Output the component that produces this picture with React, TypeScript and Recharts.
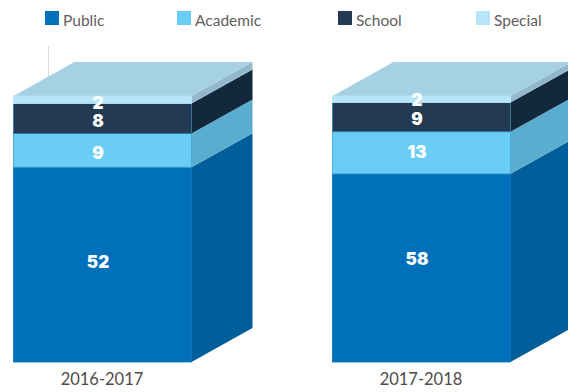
import { Bar, BarChart, LabelList, Legend, XAxis, YAxis } from "recharts";

const years = ["2016-2017", "2017-2018"];
const publicCounts = [52, 58];
const academicCounts = [9, 13];
const schoolCounts = [8, 9];
const specialCounts = [2, 2];

const rows = years.map((year, i) => ({
  year,
  Public: publicCounts[i],
  Academic: academicCounts[i],
  School: schoolCounts[i],
  Special: specialCounts[i],
}));

const DEPTH_X = 61;
const DEPTH_Y = 34;
const LABEL_FONT = "Inter, 'DejaVu Sans', sans-serif";
const TEXT_FONT = "Lato, 'Open Sans', sans-serif";

const series = [
  { key: "Public", fill: "#0070ba", side: "#005f9a", edge: "#0070ba", legendX: 45, nudge: [-3, -8.5] },
  { key: "Academic", fill: "#69cdf6", side: "#5aadcf", edge: "#3f9fc8", legendX: 177, nudge: [3, -1] },
  { key: "School", fill: "#243a52", side: "#12283d", edge: "#2f7c9f", legendX: 338, nudge: [3, 2] },
  { key: "Special", fill: "#b8e4f9", side: "#94b8cb", edge: "#b8e4f9", legendX: 476, nudge: [3, 1] },
];

// front face plus the receding side; the top series also closes the box with a lid
const boxShape = (fill: string, side: string, edge: string, lid: boolean) => (props: any) => {
  const { x, y, width, height } = props;
  const right = x + width;
  const side3d = `${right},${y} ${right + DEPTH_X},${y - DEPTH_Y} ${right + DEPTH_X},${y + height - DEPTH_Y} ${right},${y + height}`;
  const top3d = `${x},${y} ${x + DEPTH_X},${y - DEPTH_Y} ${right + DEPTH_X},${y - DEPTH_Y} ${right},${y}`;
  return (
    <g>
      <polygon points={side3d} fill={side} />
      {lid && <polygon points={top3d} fill="#a6d0e3" />}
      <rect x={x} y={y} width={width} height={height} fill={fill} stroke={edge} strokeWidth={0.8} />
    </g>
  );
};

const valueLabel = (nudge: number[]) => (props: any) => {
  const { x, y, width, height, value, index } = props;
  return (
    <text
      x={x + width / 2 - 4.5}
      y={y + height / 2 + nudge[index]}
      fill="#fff"
      fontFamily={LABEL_FONT}
      fontSize={17}
      fontWeight={900}
      textAnchor="middle"
      dominantBaseline="central"
    >
      {value}
    </text>
  );
};

const LegendRow = () => (
  <div style={{ position: "absolute", left: 0, top: 0, width: 568, height: 30 }}>
    {series.map((s) => (
      <div key={s.key} style={{ position: "absolute", left: s.legendX, top: 11 }}>
        <div style={{ position: "absolute", left: 0, top: 0, width: 14, height: 14, background: s.fill }} />
        <span
          style={{
            position: "absolute",
            left: 18,
            top: 0,
            fontFamily: TEXT_FONT,
            fontSize: 15.5,
            lineHeight: "18px",
            color: "#625d5d",
          }}
        >
          {s.key}
        </span>
      </div>
    ))}
  </div>
);

export default function App() {
  return (
    <div style={{ position: "absolute", left: 0, top: 0, width: 568, height: 392, overflow: "hidden", background: "#fff" }}>
      <BarChart
        width={568}
        height={392}
        data={rows}
        stackOffset="expand"
        barSize={178}
        margin={{ top: 96, right: -12.5, bottom: 0, left: -57.5 }}
      >
        <XAxis
          dataKey="year"
          axisLine={false}
          tickLine={false}
          height={30}
          tickMargin={0}
          tick={{ fill: "#4f4a4a", fontFamily: TEXT_FONT, fontSize: 16.5, dy: 5 }}
          interval={0}
        />
        <YAxis hide domain={[0, 1]} />
        <Legend content={LegendRow} wrapperStyle={{ position: "absolute", left: 0, top: 0 }} />
        <line x1={48.5} y1={46} x2={48.5} y2={77} stroke="#dcdcdc" strokeWidth={1} />
        {series.map((s, i) => (
          <Bar
            key={s.key}
            dataKey={s.key}
            stackId="schools"
            fill={s.fill}
            isAnimationActive={false}
            shape={boxShape(s.fill, s.side, s.edge, i === series.length - 1)}
          >
            <LabelList dataKey={s.key} content={valueLabel(s.nudge)} />
          </Bar>
        ))}
      </BarChart>
    </div>
  );
}
